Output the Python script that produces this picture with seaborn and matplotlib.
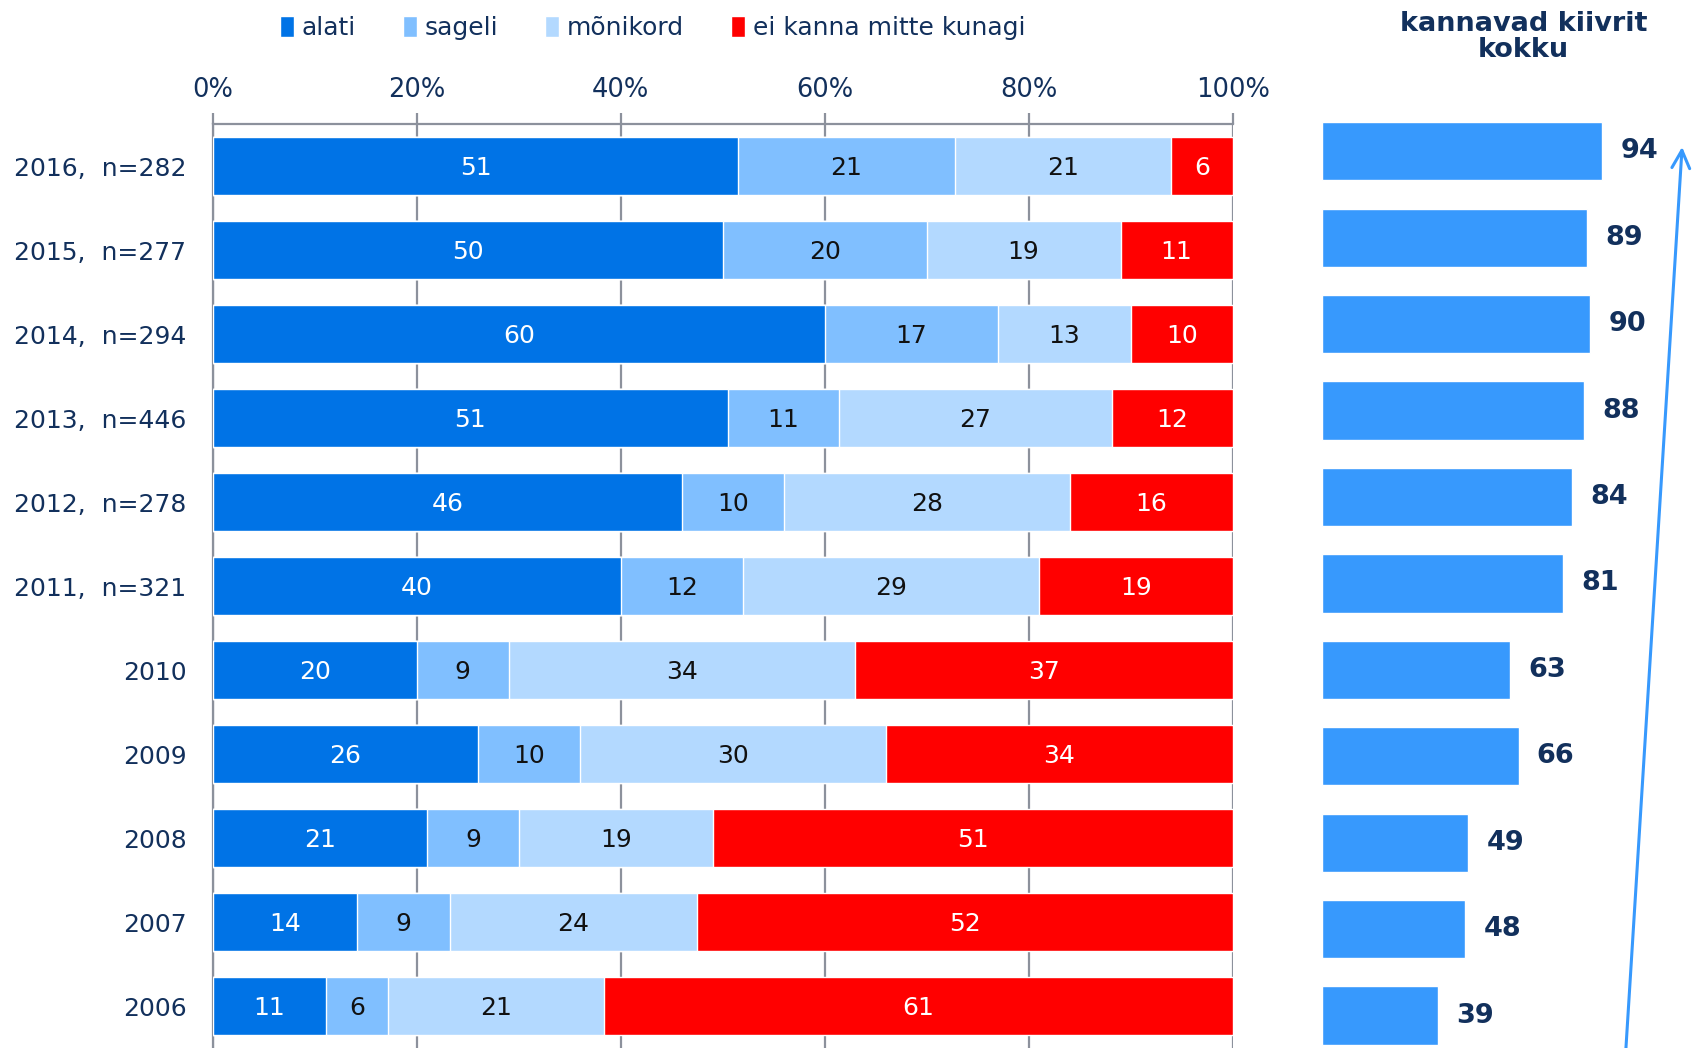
import numpy as np
import pandas as pd
import seaborn as sns
import matplotlib.pyplot as plt
from matplotlib.ticker import FixedLocator, PercentFormatter

years = ['2016,  n=282', '2015,  n=277', '2014,  n=294', '2013,  n=446', '2012,  n=278',
         '2011,  n=321', '2010', '2009', '2008', '2007', '2006']
alati = [51, 50, 60, 51, 46, 40, 20, 26, 21, 14, 11]
sageli = [21, 20, 17, 11, 10, 12, 9, 10, 9, 9, 6]
monikord = [21, 19, 13, 27, 28, 29, 34, 30, 19, 24, 21]
ei_kunagi = [6, 11, 10, 12, 16, 19, 37, 34, 51, 52, 61]
kokku = [94, 89, 90, 88, 84, 81, 63, 66, 49, 48, 39]

series_names = ['alati', 'sageli', 'mõnikord', 'ei kanna mitte kunagi']
colors = ['#0073e6', '#80bfff', '#b3d9ff', '#ff0000']
label_colors = ['white', '#111111', '#111111', 'white']
navy = '#12305c'
grey = '#8c919c'

sns.set_style('white')
plt.rcParams['font.family'] = ['DejaVu Sans']

df = pd.DataFrame({'year': years, 'alati': alati, 'sageli': sageli,
                   'mõnikord': monikord, 'ei kanna mitte kunagi': ei_kunagi})
vals = df[series_names].to_numpy(dtype=float)
# stretch each row to 100 % like the original stacked chart
scaled = vals / vals.sum(axis=1, keepdims=True) * 100
cum = scaled.cumsum(axis=1)

W, H = 1568, 970  # reference measured at this scale
fig = plt.figure(figsize=(16.94, 10.48), dpi=100)
ax = fig.add_axes([197 / W, 0, (1141 - 197) / W, 1 - 115 / H])

# cumulative bars drawn from the longest to the shortest
for k in range(3, -1, -1):
    sns.barplot(x=cum[:, k], y=years, orient='h', color=colors[k], width=0.69,
                saturation=1, ax=ax, label=series_names[k], zorder=3)

for i in range(len(years)):
    for k in range(4):
        left = cum[i, k] - scaled[i, k]
        ax.text(left + scaled[i, k] / 2, i + 0.02, f'{int(vals[i, k])}', ha='center', va='center',
                color=label_colors[k], fontsize=18, zorder=5)

ax.set_xlim(0, 100)
ax.set_ylim(10.45, -0.486)
ax.xaxis.tick_top()
ax.xaxis.set_major_locator(FixedLocator([0, 20, 40, 60, 80, 100]))
ax.xaxis.set_major_formatter(PercentFormatter(decimals=0))
ax.grid(axis='x', color=grey, linewidth=1.6, zorder=0)
ax.set_axisbelow(True)
ax.tick_params(axis='x', which='major', length=8, width=1.6, color=grey, pad=7,
               labelsize=18.5, labelcolor=navy)
ax.tick_params(axis='y', which='major', length=0, pad=19, labelsize=18, labelcolor=navy)
ax.set_yticks(np.arange(-0.5, 11, 1), minor=True)
ax.tick_params(axis='y', which='minor', length=7, width=1.6, color=grey)
for s in ['right', 'bottom']:
    ax.spines[s].set_visible(False)
for s in ['top', 'left']:
    ax.spines[s].set_color(grey)
    ax.spines[s].set_linewidth(1.6)
ax.set_xlabel('')
ax.set_ylabel('')

handles, labels = ax.get_legend_handles_labels()
order = [labels.index(n) for n in series_names]
if ax.get_legend():
    ax.get_legend().remove()
fig.legend([handles[j] for j in order], series_names, loc='center', ncol=4,
           bbox_to_anchor=(604 / W, 1 - 26 / H), frameon=False, fontsize=18,
           handlelength=0.55, handleheight=0.9, handletextpad=0.3, columnspacing=1.9,
           labelcolor=navy)

# right panel: total wearing helmets
ax2 = fig.add_axes([1224 / W, 0, 275.5 / W, 1 - 100 / H])
sns.barplot(x=kokku, y=years, orient='h', color='#3799fd', width=0.675, saturation=1, ax=ax2)
ax2.set_xlim(0, 100)
ax2.set_ylim(10.375, -0.5)
ax2.bar_label(ax2.containers[0], labels=[str(v) for v in kokku], padding=13,
              fontsize=19.5, fontweight='bold', color=navy, clip_on=False)
ax2.set_axis_off()

fig.text(1410 / W, 1 - 34 / H, 'kannavad kiivrit\nkokku', ha='center', va='center',
         fontsize=19.5, fontweight='bold', color=navy, linespacing=1.0)

ax2.annotate('', xy=(1557 / W, 1 - 136 / H), xytext=(1505 / W, 0),
             xycoords='figure fraction', textcoords='figure fraction',
             arrowprops=dict(arrowstyle='->', color='#3799fd', lw=2.2,
                             mutation_scale=32, shrinkA=0, shrinkB=0))

fig.savefig('out.png', dpi=100)
